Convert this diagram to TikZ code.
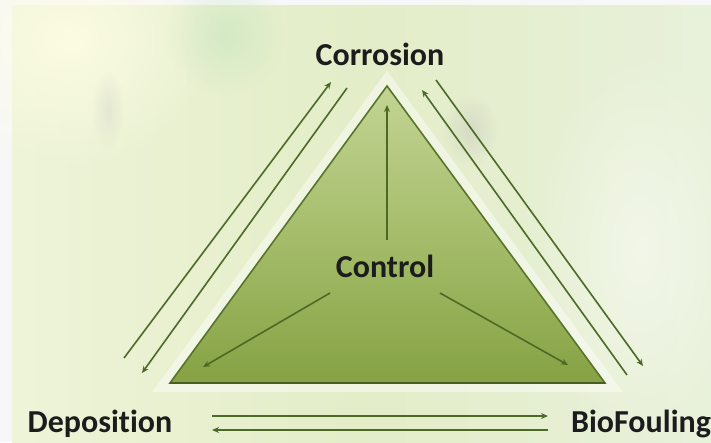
\documentclass[tikz,border=0pt]{standalone}
\usepackage{fontspec}
\setmainfont[Ligatures=NoCommon]{Carlito}
\usetikzlibrary{arrows.meta,fadings}

\definecolor{bgleft}{HTML}{EEF4D8}
\definecolor{bgmid}{HTML}{E3EDC8}
\definecolor{bgright}{HTML}{E8F1DA}
\definecolor{triTop}{HTML}{C3D494}
\definecolor{triMid}{HTML}{A5BD6B}
\definecolor{triBot}{HTML}{86A244}
\definecolor{triEdge}{HTML}{57752A}
\definecolor{arrowGreen}{HTML}{4C6926}
\definecolor{labelInk}{HTML}{1C1C1C}

\tikzfading[name=softspot, inner color=transparent!0, outer color=transparent!100]

\tikzset{
  label text/.style={font=\bfseries\fontsize{32}{38}\selectfont, text=labelInk, inner sep=0pt, anchor=base},
  flow/.style={draw=arrowGreen, line width=1.6pt, -{Stealth[length=7pt,width=6pt]}},
  haze/.style={path fading=softspot},
}

\begin{document}
\begin{tikzpicture}[x=1pt,y=-1pt]
  \useasboundingbox (0,0) rectangle (711,442);

  % background with a pale frame on the top and left
  \fill[white!94!gray] (0,0) rectangle (711,442);
  \shade[left color=bgleft, right color=bgright, middle color=bgmid] (12,5) rectangle (711,442);
  \fill[yellow!10!white, haze, opacity=0.8] (70,40) ellipse (150 and 130);
  \fill[green!40!gray!40!white, haze, opacity=0.4] (225,35) circle (60);
  \fill[gray!50!white, haze, opacity=0.25] (108,110) ellipse (16 and 40);
  \fill[gray!55!white, haze, opacity=0.35] (470,130) ellipse (28 and 36);
  \fill[white, haze, opacity=0.45] (640,250) ellipse (110 and 200);

  % vertices of the triangle
  \coordinate (A) at (387,86);
  \coordinate (B) at (170,383);
  \coordinate (C) at (605,383);

  % soft halo and filled triangle
  \draw[white, line width=18pt, opacity=0.45, line join=miter] (A) -- (B) -- (C) -- cycle;
  \shade[top color=triTop, bottom color=triBot, middle color=triMid] (A) -- (B) -- (C) -- cycle;
  \draw[triEdge, line width=1.6pt, line join=miter] (A) -- (B) -- (C) -- cycle;
  \draw[triEdge!80!black, line width=2.4pt] (B) -- (C);

  % labels
  \node[label text] (cor) at (380,65) {Corrosion};
  \node[label text] (con) at (385,277) {Control};
  \node[label text] (dep) at (100,432) {Deposition};
  \node[label text] (bio) at (641,432) {BioFouling};

  % ends of the exchange arrows
  \coordinate (l1s) at (124,358);  \coordinate (l1e) at (331,82);
  \coordinate (l2s) at (347,88);   \coordinate (l2e) at (142,373);
  \coordinate (r1s) at (627,375);  \coordinate (r1e) at (422,90);
  \coordinate (r2s) at (436,80);   \coordinate (r2e) at (643,366);
  \coordinate (b1s) at (212,416);  \coordinate (b1e) at (548,416);
  \coordinate (b2s) at (548,430);  \coordinate (b2e) at (212,430);

  \draw[flow] (l1s) -- (l1e);
  \draw[flow] (l2s) -- (l2e);
  \draw[flow] (r1s) -- (r1e);
  \draw[flow] (r2s) -- (r2e);
  \draw[flow] (b1s) -- (b1e);
  \draw[flow] (b2s) -- (b2e);

  % arrows from Control to the corners
  \coordinate (cbase) at (387,240);
  \coordinate (cup) at (387,105);
  \coordinate (cls) at (330,293);
  \coordinate (cleft) at (203,367);
  \coordinate (crs) at (440,293);
  \coordinate (cright) at (568,365);
  \draw[flow] (cbase) -- (cup);
  \draw[flow] (cls) -- (cleft);
  \draw[flow] (crs) -- (cright);
\end{tikzpicture}
\end{document}
